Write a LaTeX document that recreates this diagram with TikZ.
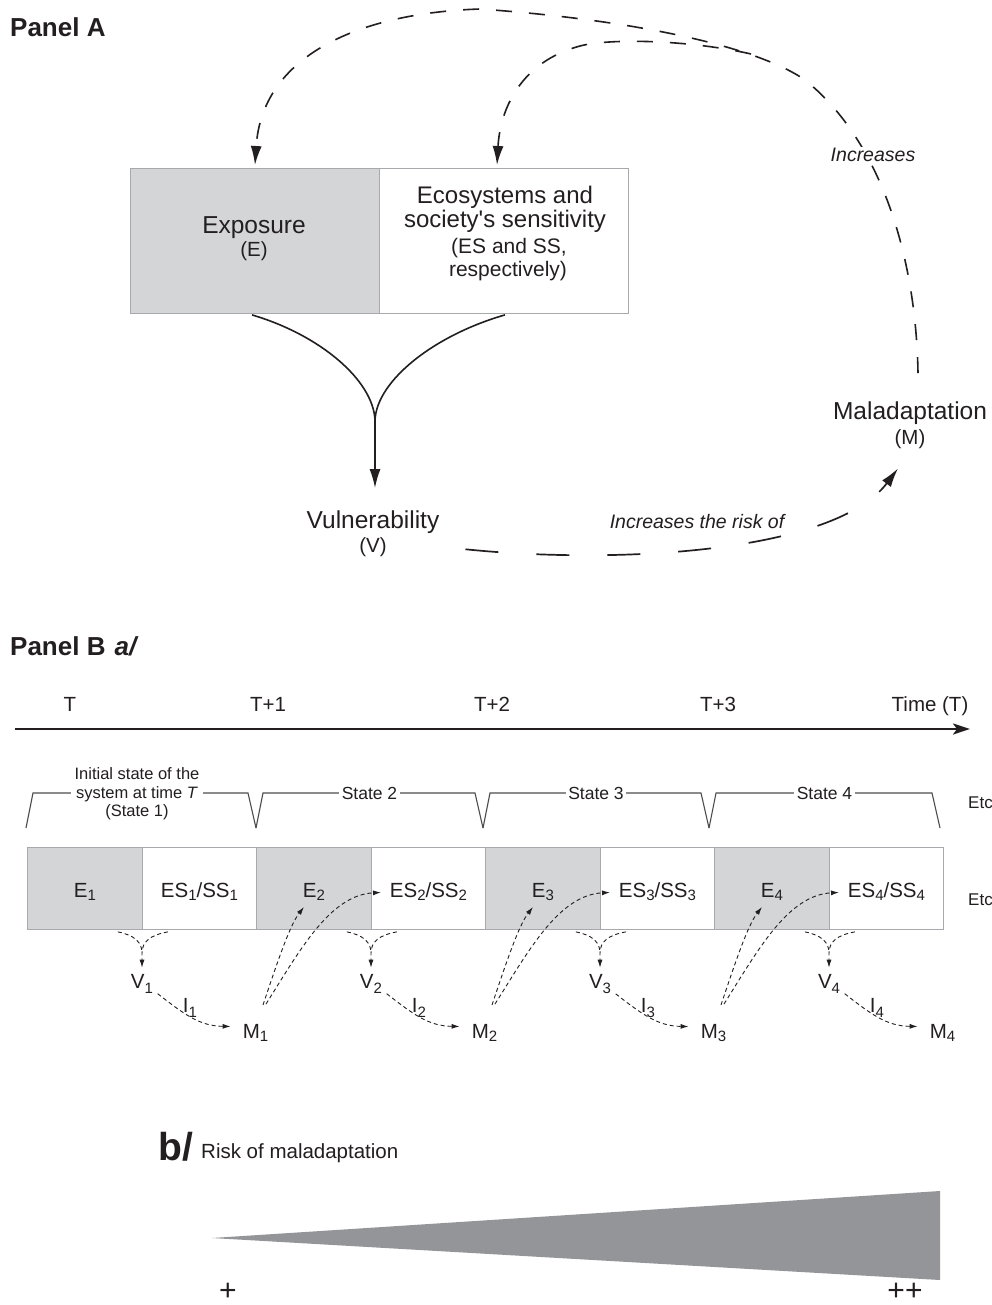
\documentclass[tikz,border=0pt]{standalone}
\usepackage{fontspec}
\setmainfont{Liberation Sans}
\usetikzlibrary{arrows.meta}
\definecolor{ink}{HTML}{231F20}
\definecolor{boxgray}{HTML}{D4D5D7}
\definecolor{edgegray}{HTML}{A7A9AC}
\definecolor{wedgegray}{HTML}{939598}
\definecolor{brkgray}{HTML}{4D4D4F}
\newcommand{\sbs}[2][3pt]{\raisebox{-#1}{\fontsize{15}{15}\selectfont #2}}
\begin{document}
\begin{tikzpicture}[x=1pt,y=-1pt,
  txt/.style={inner sep=0pt, text=ink, anchor=base},
  ttl/.style={txt, anchor=base west, font=\fontsize{26}{26}\selectfont\bfseries},
  mainf/.style={font=\fontsize{24.5}{25}\selectfont},
  parenf/.style={font=\fontsize{20.5}{21}\selectfont},
  note/.style={txt, font=\fontsize{19.5}{20}\selectfont\itshape},
  bigdash/.style={draw=ink, line width=1.6, dash pattern=on 16pt off 17pt},
  longdash/.style={draw=ink, line width=1.7, dash pattern=on 33pt off 38pt},
  tipA/.style={-{Latex[length=19pt,width=11pt]}},
  cell/.style={draw=edgegray, line width=0.9, anchor=north west, inner sep=0pt, text=ink,
    font=\fontsize{20.5}{20.5}\selectfont, text height=18pt, text depth=0pt},
  ecell/.style={cell, fill=boxgray},
  scell/.style={cell, fill=white},
  smalldash/.style={draw=ink, line width=0.9, dash pattern=on 4pt off 3pt},
  tipB/.style={-{Latex[length=8pt,width=5pt]}},
  brk/.style={draw=brkgray, line width=1.1},
  stlab/.style={fill=white, inner xsep=2.5pt, inner ysep=1pt, text=ink, font=\fontsize{17.5}{18}\selectfont},
  seq/.style={txt, font=\fontsize{20.5}{20.5}\selectfont},
]
\fill[white] (0,0) rectangle (992,1305);
\useasboundingbox (0,0) rectangle (992,1305);

% ---------------- Panel A ----------------
\node[ttl] (pA) at (10,37) {Panel A};

\node[ecell, minimum width=249, minimum height=145] (expo) at (130,168) {};
\node[scell, minimum width=249, minimum height=145] (sens) at (379,168) {};

\node[txt, mainf] (tE) at (254,234) {Exposure};
\node[txt, parenf] (tE2) at (254,257) {(E)};
\node[txt, font=\fontsize{24}{24}\selectfont] (tS1) at (505,204) {Ecosystems and};
\node[txt, font=\fontsize{24}{24}\selectfont] (tS2) at (505,228) {society\textquotesingle s sensitivity};
\node[txt, font=\fontsize{21}{21}\selectfont] (tS3) at (509,254) {(ES and SS,};
\node[txt, font=\fontsize{21}{21}\selectfont] (tS4) at (508,277) {respectively)};

\node[txt, mainf] (vuln) at (373,528) {Vulnerability};
\node[txt, parenf] (vulnV) at (373,552) {(V)};
\node[txt, mainf] (mal) at (910,419) {Maladaptation};
\node[txt, parenf] (malM) at (910,444) {(M)};

% solid merge into vulnerability
\draw[ink, line width=1.6] ([xshift=122pt,yshift=-1pt]expo.south west)
  .. controls (320,335) and (373,380) .. (375,420) coordinate (vj);
\draw[ink, line width=1.6, tipA] ([xshift=126pt,yshift=-1pt]sens.south west)
  .. controls (435,335) and (377,380) .. (vj) -- ([yshift=22pt]vj |- vuln.north);

% outer dashed arc: Maladaptation -> Exposure
\draw[bigdash, tipA] ([xshift=8pt,yshift=28pt]mal.north)
  .. controls (916,255) and (880,140) .. (805,80)
  .. controls (765,52) and (660,22) .. (480,9)
  .. controls (360,13) and (262,55) .. ([xshift=125pt,yshift=3pt]expo.north west);
% inner dashed arc -> sensitivity
\draw[bigdash, tipA] (751,54)
  .. controls (690,40) and (610,38) .. (580,46)
  .. controls (520,62) and (500,110) .. ([xshift=118pt,yshift=3pt]sens.north west);
\node[note, fill=white, inner sep=2pt] (inc) at (873,162) {Increases};

% vulnerability -> maladaptation
\draw[longdash, tipA] ([xshift=26pt,yshift=-16pt]vuln.south east)
  .. controls (620,565) and (835,552) .. ([xshift=-12pt,yshift=-20pt]malM.south);
\node[note] (risk) at (697,528) {Increases the risk of};

% ---------------- Panel B ----------------
\node[ttl] (pB) at (10,655) {Panel B\hspace{0.35em}\textit{a/}};

\node[seq] (t0) at (70,711) {T};
\node[seq] (t1) at (268,711) {T+1};
\node[seq] (t2) at (492,711) {T+2};
\node[seq] (t3) at (718,711) {T+3};
\node[seq] (tT) at (930,711) {Time (T)};
\coordinate (ax0) at (15,729);
\coordinate (ax1) at (970,729);
\draw[ink, line width=2.4, -{Stealth[length=17pt,width=11pt,inset=4pt]}] (ax0) -- (ax1);

% state brackets
\foreach \a/\b in {26/256, 256/483, 483/709, 709/940} {
  \draw[brk] (\a,828) -- (\a+7,793) -- (\b-8,793) -- (\b,828);
}
\node[stlab, align=center, font=\fontsize{16.5}{18.5}\selectfont, inner xsep=4pt] (st1) at (137,794)
  {Initial state of the\\system at time \textit{T}\\(State 1)};
\node[stlab] (st2) at (369.5,793) {State 2};
\node[stlab] (st3) at (596,793) {State 3};
\node[stlab] (st4) at (824.5,793) {State 4};
\node[txt, anchor=base west, font=\fontsize{17}{17}\selectfont] (etc1) at (968,808) {Etc};
\node[txt, anchor=base west, font=\fontsize{17}{17}\selectfont] (etc2) at (968,905) {Etc};

% boxes, V, I, M
\foreach \k in {1,...,4} {
  \pgfmathsetmacro{\dx}{229*(\k-1)}
  \node[ecell, minimum width=115, minimum height=82] (E\k) at (27+\dx,847) {E\sbs{\k}};
  \node[scell, minimum width=114, minimum height=82] (S\k) at (142+\dx,847) {ES\sbs{\k}/SS\sbs{\k}};
  \node[seq] (V\k) at (142+\dx,988) {V\sbs[5.5pt]{\k}};
  \node[seq] (I\k) at (190+\dx,1012) {I\sbs[5.5pt]{\k}};
  \node[seq] (M\k) at (255.5+\dx,1038) {M\sbs{\k}};
  \draw[smalldash] ([xshift=-25pt,yshift=-2pt]E\k.south east)
    .. controls (134+\dx,935) and (142+\dx,942) .. (142+\dx,953);
  \draw[smalldash, tipB, shorten >=6pt] ([xshift=25pt,yshift=-2pt]E\k.south east)
    .. controls (150+\dx,935) and (142+\dx,942) .. (142+\dx,953) -- (V\k.north);
  \draw[smalldash, tipB] ([xshift=4.5pt,yshift=0pt]V\k.south east)
    .. controls (185+\dx,1015) and (200+\dx,1026) .. ([xshift=-12pt,yshift=6pt]M\k.west);
}
\foreach \k/\n in {1/2, 2/3, 3/4} {
  \pgfmathsetmacro{\dx}{229*(\k-1)}
  \coordinate (mo\k) at (263+\dx,1005);
  \coordinate (mp\k) at (266+\dx,1004);
  \draw[smalldash, tipB] (mo\k) .. controls (278+\dx,960) and (290+\dx,925) .. ([xshift=-10pt,yshift=-60pt]E\n.north);
  \draw[smalldash, tipB] (mp\k) .. controls (300+\dx,950) and (330+\dx,895) .. ([xshift=10pt,yshift=-4pt]S\n.west);
}

% ---------------- Panel b ----------------
\node[txt, anchor=base west, font=\fontsize{39}{39}\selectfont\bfseries] (bl) at (158,1160) {b/};
\node[txt, anchor=base west, font=\fontsize{20.5}{21}\selectfont] (risklab) at (201,1158) {Risk of maladaptation};
\fill[wedgegray] (212,1238) -- (940,1191) -- (940,1280) -- cycle;
\node[txt, anchor=center, font=\fontsize{30}{30}\selectfont] (plus1) at (228,1292) {+};
\node[txt, anchor=center, font=\fontsize{30}{30}\selectfont] (plus2) at (905,1292) {++};
\end{tikzpicture}
\end{document}
